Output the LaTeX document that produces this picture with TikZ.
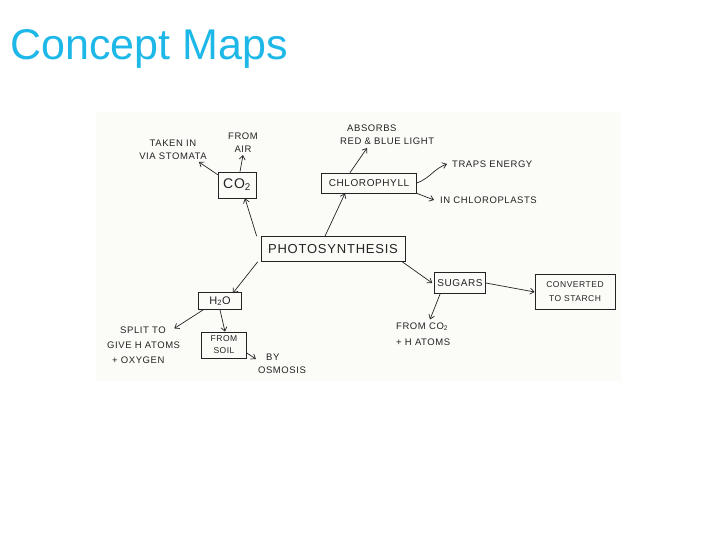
\documentclass[tikz,border=0pt]{standalone}
\usepackage{fontspec}
\setmainfont{Liberation Sans}
\newfontfamily\hand[LetterSpace=6]{Liberation Sans}
\usetikzlibrary{arrows.meta}
\definecolor{titlecyan}{RGB}{30,184,232}
\definecolor{ink}{RGB}{35,35,35}
\definecolor{paper}{RGB}{251,251,248}
\begin{document}
\begin{tikzpicture}[x=1pt, y=-1pt, >={Straight Barb[length=4pt,width=6pt]},
  box/.style={draw=ink, line width=.7pt, inner sep=0pt, align=center, text=ink, font=\hand},
  note/.style={inner sep=0pt, align=center, text=ink, font=\hand\fontsize{9.5}{13}\selectfont},
  link/.style={->, draw=ink, line width=.7pt}]
\useasboundingbox (0,0) rectangle (720,540);
\fill[paper] (96,112) rectangle (621,381);

\node[anchor=base west, text=titlecyan, font=\fontsize{43}{50}\selectfont] (title) at (7,60) {Concept Maps};

% boxes
\node[box, minimum width=144, minimum height=25, font=\hand\fontsize{13}{15}\selectfont] (ps) at (333,249) {PHOTOSYNTHESIS};
\node[box, minimum width=38, minimum height=26, font=\hand\fontsize{14}{16}\selectfont] (co2) at (237,185) {CO\textsubscript{2}};
\node[box, minimum width=95, minimum height=20, font=\hand\fontsize{10}{12}\selectfont] (chl) at (369,183) {CHLOROPHYLL};
\node[box, minimum width=43, minimum height=17, font=\hand\fontsize{11}{13}\selectfont] (h2o) at (220,301) {H\textsubscript{2}O};
\node[box, minimum width=45, minimum height=26, font=\hand\fontsize{8.5}{12}\selectfont] (soil) at (224,345) {FROM\\SOIL};
\node[box, minimum width=51, minimum height=21, font=\hand\fontsize{10}{12}\selectfont] (sug) at (460,283) {SUGARS};
\node[box, minimum width=80, minimum height=35, font=\hand\fontsize{8.5}{14}\selectfont] (conv) at (575,292) {CONVERTED\\TO STARCH};

% notes
\node[note] (stom) at (173,150) {TAKEN IN\\VIA STOMATA};
\node[note] (air) at (243,143) {FROM\\AIR};
\node[note, anchor=west, align=left] (abs) at (340,135) {\hspace{7pt}ABSORBS\\RED \& BLUE LIGHT};
\node[note, anchor=west] (trap) at (452,164) {TRAPS ENERGY};
\node[note, anchor=west] (clp) at (440,200) {IN CHLOROPLASTS};
\node[note, anchor=west, align=left, font=\hand\fontsize{9.5}{15}\selectfont] (split) at (107,345) {\hspace{13pt}SPLIT TO\\GIVE H ATOMS\\\hspace{5pt}+ OXYGEN};
\node[note, align=left] (osm) at (282,364) {\hspace{8pt}BY\\OSMOSIS};
\node[note, anchor=west, align=left, font=\hand\fontsize{9.5}{16}\selectfont] (fco) at (396,334) {FROM CO\textsubscript{2}\\+ H ATOMS};

% arrows
\draw[link] ([xshift=-4pt]ps.north west) -- ([xshift=8pt]co2.south);
\draw[link] ([xshift=-8pt]ps.north) -- ([xshift=-24pt]chl.south);
\draw[link] ([xshift=-3pt]ps.south west) -- ([xshift=-9pt,yshift=-1pt]h2o.north east);
\draw[link] ([xshift=-3pt]ps.south east) -- ([xshift=-2pt]sug.west);
\draw[link] ([yshift=-3pt]co2.north west) -- ([xshift=-8pt,yshift=-2pt]stom.south east);
\draw[link] ([xshift=3pt]co2.north) -- ([yshift=-2pt]air.south);
\draw[link] ([xshift=-19pt]chl.north) -- ([xshift=27pt,yshift=-3pt]abs.south west);
\draw[link] (chl.east) to[out=20,in=200] ([xshift=-5pt]trap.west);
\draw[link] (chl.south east) -- ([xshift=-6pt]clp.west);
\draw[link] ([xshift=5pt]h2o.south west) -- ([xshift=-6pt,yshift=-2pt]split.north east);
\draw[link] (h2o.south) -- ([xshift=1pt]soil.north);
\draw[link] ([yshift=-8pt]soil.east) -- ([xshift=-2pt,yshift=5pt]osm.west);
\draw[link] (sug.east) -- (conv.west);
\draw[link] ([xshift=6pt]sug.south west) -- ([xshift=34pt,yshift=3pt]fco.north west);
\end{tikzpicture}
\end{document}
